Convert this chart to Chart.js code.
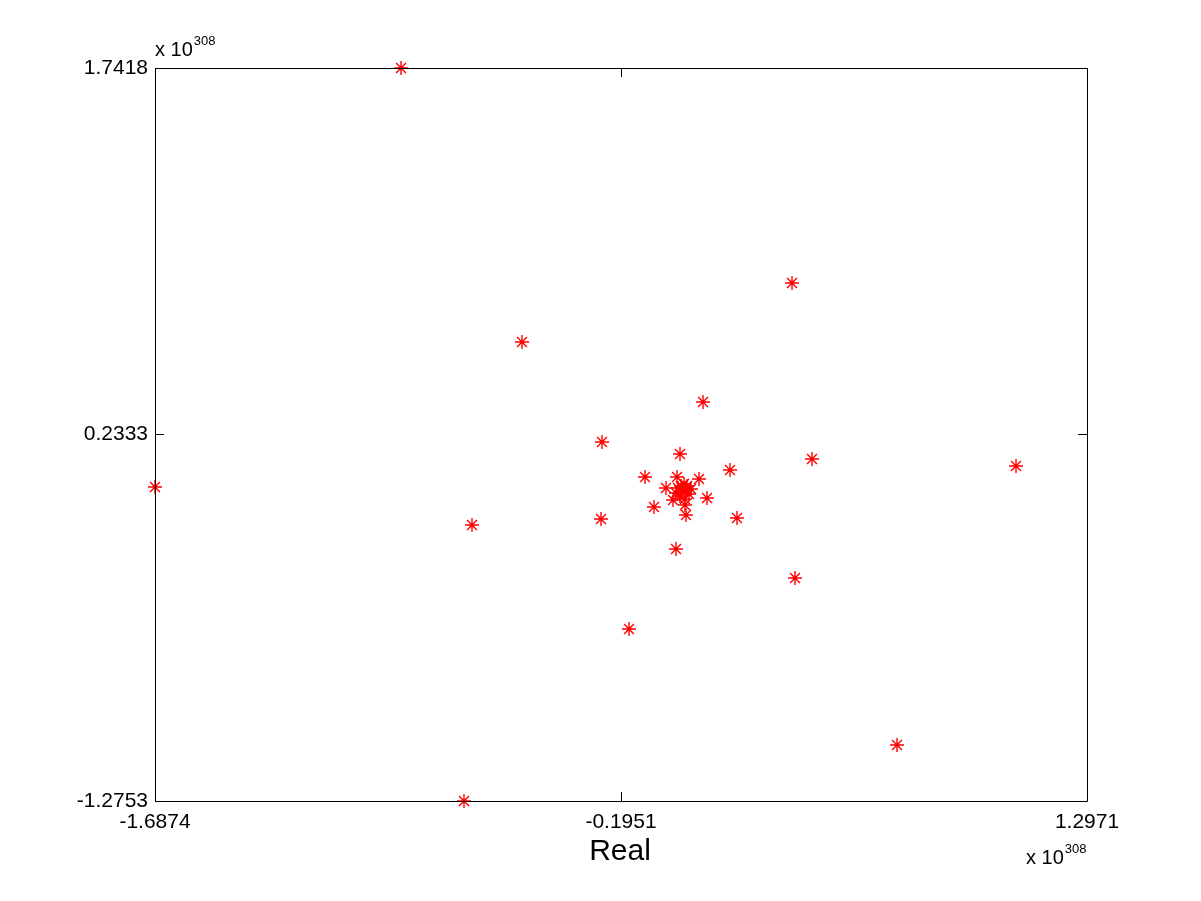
<!DOCTYPE html>
<html>
<head>
<meta charset="utf-8">
<script src="https://cdn.jsdelivr.net/npm/chart.js@4.4.1/dist/chart.umd.min.js"></script>
<style>
  html, body { margin: 0; padding: 0; background: #fff; }
  #contenedor { width: 1201px; height: 901px; }
</style>
</head>
<body>
<div id="contenedor"><canvas id="grafico" width="1201" height="901"></canvas></div>
<script>
// valores en unidades de 1e308
const partesReales = [
  -0.8996, -1.6874, -0.6979, -0.6723, -0.5122, -0.2560, -0.2592, -0.1695,
  -0.1183, -0.0895, -0.0510, -0.0286, -0.0190, -0.0158, -0.0062, 0.0130,
  0.0547, 0.0675, 0.0803, 0.1539, 0.1763, 0.3525, 0.3621, 0.4165,
  1.0698, 0.6887,
  -0.0126, 0.0002, 0.0130, 0.0226, 0.0290, -0.0062, 0.0098, -0.0190,
  0.0066, 0.0162, -0.0030, 0.0098
];
const partesImag = [
  1.7418, 0.0172, -1.2753, -0.1393, 0.6140, 0.2024, -0.1146, -0.5673,
  0.0583, -0.0652, 0.0130, -0.0364, -0.2380, 0.0583, 0.1530, -0.0981,
  0.0501, 0.3670, -0.0281, 0.0871, -0.1104, 0.8568, -0.3574, 0.1324,
  0.1036, -1.0448,
  0.0130, -0.0035, 0.0048, -0.0117, 0.0089, -0.0200, -0.0323, -0.0076,
  0.0295, 0.0212, 0.0212, -0.0569
];
const ticksX = [-1.6874, -0.1951, 1.2971];
const ticksY = [-1.2753, 0.2333, 1.7418];
const exponente = "308";
const tituloX = "Real";

const puntos = partesReales.map((x, i) => ({ x: x, y: partesImag[i] }));

const fuente = "'Liberation Sans', Arial, sans-serif";

// dibuja "x 10^308" con el exponente pegado a la base
function dibujarMultiplicador(ctx, x, y) {
  ctx.font = "20px " + fuente;
  ctx.fillText("x 10", x, y);
  const ancho = ctx.measureText("x 10").width;
  ctx.font = "13px " + fuente;
  ctx.fillText(exponente, x + ancho + 1, y - 9);
}

const ejesMatlab = {
  id: "ejesMatlab",
  afterDatasetsDraw(chart) {
    const ctx = chart.ctx;
    const a = chart.chartArea;
    const sx = chart.scales.x;
    const sy = chart.scales.y;
    const largo = 9;
    ctx.save();
    ctx.strokeStyle = "#000";
    ctx.lineWidth = 1;
    ctx.beginPath();
    ctx.rect(a.left + 0.5, a.top + 0.5, a.right - a.left, a.bottom - a.top);
    ticksX.forEach((v) => {
      const px = Math.round(sx.getPixelForValue(v)) + 0.5;
      ctx.moveTo(px, a.bottom);
      ctx.lineTo(px, a.bottom - largo);
      ctx.moveTo(px, a.top);
      ctx.lineTo(px, a.top + largo);
    });
    ticksY.forEach((v) => {
      const py = Math.round(sy.getPixelForValue(v)) + 0.5;
      ctx.moveTo(a.left, py);
      ctx.lineTo(a.left + largo, py);
      ctx.moveTo(a.right, py);
      ctx.lineTo(a.right - largo, py);
    });
    ctx.stroke();

    ctx.fillStyle = "#000";
    ctx.textBaseline = "middle";
    ctx.textAlign = "center";
    ctx.font = "30px " + fuente;
    ctx.fillText(tituloX, 620, 852);

    ctx.textAlign = "left";
    dibujarMultiplicador(ctx, 155, 50);
    dibujarMultiplicador(ctx, 1026, 858);
    ctx.restore();
  },
};

const config = {
  type: "scatter",
  data: {
    datasets: [
      {
        data: puntos,
        pointStyle: "star",
        pointRadius: 7,
        pointHoverRadius: 7,
        borderColor: "rgb(255, 0, 0)",
        backgroundColor: "rgb(255, 0, 0)",
        borderWidth: 1.4,
        clip: false,
      },
    ],
  },
  options: {
    responsive: false,
    animation: false,
    events: [],
    layout: { padding: { top: 68, right: 114, left: 0, bottom: 0 } },
    plugins: { legend: { display: false }, tooltip: { enabled: false } },
    scales: {
      x: {
        type: "linear",
        min: ticksX[0],
        max: ticksX[ticksX.length - 1],
        afterBuildTicks: (s) => { s.ticks = ticksX.map((v) => ({ value: v })); },
        afterFit: (s) => { s.height = 100; },
        grid: { display: false, drawTicks: false },
        border: { display: false },
        ticks: {
          autoSkip: false,
          maxRotation: 0,
          padding: 9,
          color: "#000",
          font: { family: fuente, size: 21 },
          callback: (v) => Number(v).toFixed(4),
        },
      },
      y: {
        type: "linear",
        min: ticksY[0],
        max: ticksY[ticksY.length - 1],
        afterBuildTicks: (s) => { s.ticks = ticksY.map((v) => ({ value: v })); },
        afterFit: (s) => { s.width = 155; },
        grid: { display: false, drawTicks: false },
        border: { display: false },
        ticks: {
          autoSkip: false,
          padding: 7,
          color: "#000",
          font: { family: fuente, size: 21 },
          callback: (v) => Number(v).toFixed(4),
        },
      },
    },
  },
  plugins: [ejesMatlab],
};

const grafico = new Chart(document.getElementById("grafico"), config);
</script>
</body>
</html>
